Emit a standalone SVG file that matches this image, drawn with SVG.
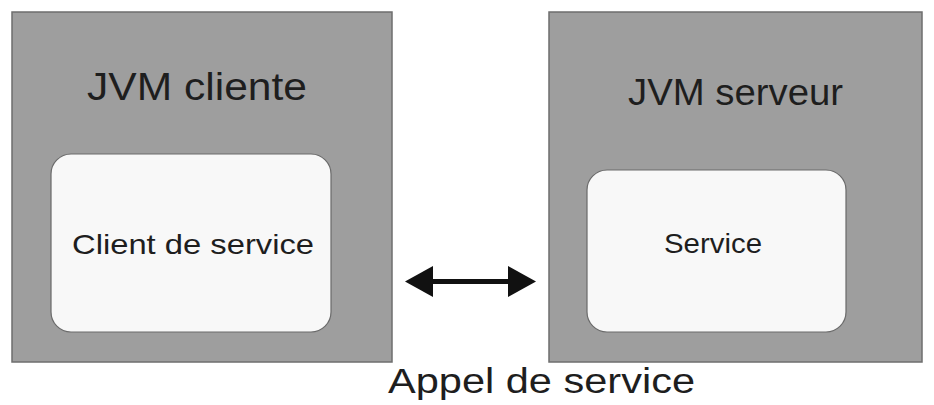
<svg xmlns="http://www.w3.org/2000/svg" width="934" height="405" viewBox="0 0 934 405">
  <defs>
    <style>
      .jvm { fill: #9e9e9e; stroke: #6e6e6e; stroke-width: 1.5; }
      .box { fill: #f8f8f8; stroke: #6a6a6a; stroke-width: 1.2; }
      .t { font-family: "Liberation Sans", Arial, sans-serif; fill: #1e1e1e; }
    </style>
  </defs>
  <rect width="934" height="405" fill="#ffffff"/>

  <!-- Client JVM -->
  <g id="jvm-cliente">
    <rect class="jvm" x="12" y="12" width="380" height="350"/>
    <text class="t" x="87" y="100" font-size="38" textLength="220" lengthAdjust="spacingAndGlyphs">JVM cliente</text>
  </g>
  <g id="client-de-service">
    <rect class="box" x="51" y="154" width="280" height="178" rx="20" ry="20"/>
    <text class="t" x="72" y="254" font-size="28" textLength="242" lengthAdjust="spacingAndGlyphs">Client de service</text>
  </g>

  <!-- Server JVM -->
  <g id="jvm-serveur">
    <rect class="jvm" x="549" y="12" width="373" height="350"/>
    <text class="t" x="628" y="105" font-size="36" textLength="215" lengthAdjust="spacingAndGlyphs">JVM serveur</text>
  </g>
  <g id="service">
    <rect class="box" x="587" y="170" width="259" height="162" rx="20" ry="20"/>
    <text class="t" x="664" y="253" font-size="28" textLength="98" lengthAdjust="spacingAndGlyphs">Service</text>
  </g>

  <!-- Call connector -->
  <g id="connectors">
    <rect x="428" y="279" width="84" height="5" fill="#111111"/>
    <polygon points="405,281.5 433,266 433,297" fill="#111111"/>
    <polygon points="536,281.5 508,266 508,297" fill="#111111"/>
  </g>

  <text class="t" x="388" y="393" font-size="35" textLength="307" lengthAdjust="spacingAndGlyphs">Appel de service</text>
</svg>
